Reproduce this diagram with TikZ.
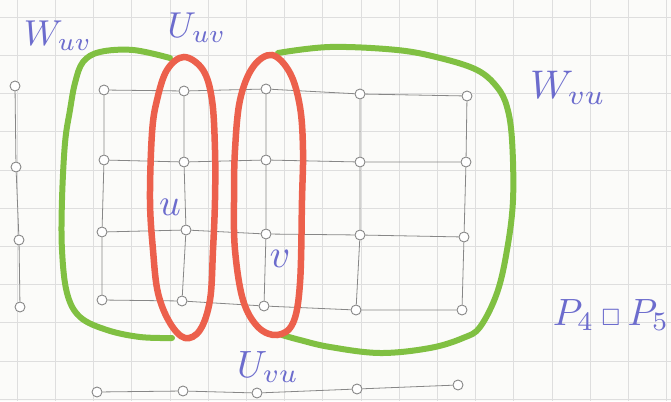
\documentclass[tikz,border=0pt]{standalone}
\usepackage{amssymb}
\definecolor{paper}{RGB}{251,251,249}
\definecolor{gridc}{RGB}{222,222,222}
\definecolor{vgray}{RGB}{135,135,135}
\definecolor{leaf}{RGB}{128,192,66}
\definecolor{redo}{RGB}{236,96,76}
\definecolor{ink}{RGB}{108,108,205}
\begin{document}
\begin{tikzpicture}[x=1pt,y=-1pt,
  vtx/.style={circle, draw=vgray, fill=white, line width=0.9pt, minimum size=10pt, inner sep=0pt},
  edg/.style={draw=vgray, line width=0.8pt},
  greenline/.style={draw=leaf, line width=6pt, line cap=round},
  redline/.style={draw=redo, line width=6.5pt},
  lab/.style={text=ink, inner sep=0pt}]
\useasboundingbox (0,0) rectangle (671,401);
\fill[paper] (0,0) rectangle (671,401);
% graph paper
\foreach \k in {0,...,17} {\draw[gridc, line width=0.6pt] (17+38.2*\k,0) -- (17+38.2*\k,401);}
\foreach \k in {0,...,10} {\draw[gridc, line width=0.6pt] (0,17+38.2*\k) -- (671,17+38.2*\k);}
% grid graph vertices
\node[vtx] (a11) at (104,90) {};
\node[vtx] (a12) at (184,91) {};
\node[vtx] (a13) at (266,89) {};
\node[vtx] (a14) at (360,94) {};
\node[vtx] (a15) at (467,96) {};
\node[vtx] (a21) at (104,160) {};
\node[vtx] (a22) at (184,162) {};
\node[vtx] (a23) at (266,160) {};
\node[vtx] (a24) at (360,162) {};
\node[vtx] (a25) at (466,162) {};
\node[vtx] (a31) at (102,232) {};
\node[vtx] (a32) at (186,230) {};
\node[vtx] (a33) at (266,234) {};
\node[vtx] (a34) at (360,235) {};
\node[vtx] (a35) at (464,237) {};
\node[vtx] (a41) at (102,300) {};
\node[vtx] (a42) at (182,301) {};
\node[vtx] (a43) at (264,306) {};
\node[vtx] (a44) at (356,310) {};
\node[vtx] (a45) at (462,310) {};
% P4
\node[vtx] (p1) at (15,86) {};
\node[vtx] (p2) at (16,167) {};
\node[vtx] (p3) at (19,240) {};
\node[vtx] (p4) at (20,307) {};
% P5
\node[vtx] (q1) at (97,392) {};
\node[vtx] (q2) at (183,391) {};
\node[vtx] (q3) at (257,393) {};
\node[vtx] (q4) at (357,389) {};
\node[vtx] (q5) at (458,385) {};
% edges
\foreach \r in {1,...,4} {
  \draw[edg] (a\r1) -- (a\r2) -- (a\r3) -- (a\r4) -- (a\r5);
}
\foreach \c in {1,...,5} {
  \draw[edg] (a1\c) -- (a2\c) -- (a3\c) -- (a4\c);
}
\draw[edg] (p1) -- (p2) -- (p3) -- (p4);
\draw[edg] (q1) -- (q2) -- (q3) -- (q4) -- (q5);
% green curves
\draw[greenline] plot[smooth, tension=0.6] coordinates {(170,58) (133,50) (100,52) (83,62) (75,83) (70,110) (65,143) (62,200) (62,250) (67,293) (80,317) (107,330) (140,337) (172,338)};
\draw[greenline] plot[smooth, tension=0.6] coordinates {(278,53) (330,47) (397,50) (440,58) (477,70) (497,87) (507,107) (512,140) (513,200) (507,250) (497,293) (480,327) (463,338) (430,348) (380,353) (330,347) (300,340) (282,335)};
% red ovals
\draw[redline] plot[smooth cycle, tension=0.6] coordinates {(184,57) (203,70) (212,100) (215,150) (215,200) (213,250) (210,300) (200,330) (185,338) (170,323) (158,293) (153,250) (150,200) (152,133) (157,100) (167,70)};
\draw[redline] plot[smooth cycle, tension=0.6] coordinates {(272,55) (290,73) (300,107) (303,150) (302,200) (300,283) (293,323) (277,335) (258,327) (243,300) (235,250) (234,200) (235,150) (240,100) (253,67)};
% labels
\node[lab, scale=3.6] (lWuv) at (58,36) {$W_{uv}$};
\node[lab, scale=3.6] (lUuv) at (197,28) {$U_{uv}$};
\node[lab, scale=4.0] (lWvu) at (568,88) {$W_{vu}$};
\node[lab, scale=3.8] (lu) at (170,207) {$u$};
\node[lab, scale=4] (lv) at (280,259) {$v$};
\node[lab, scale=3.8] (lUvu) at (268,367) {$U_{vu}$};
\node[lab, scale=3.8] (lP) at (611,315) {$P_4\,{\scriptscriptstyle\square}\,P_5$};
\end{tikzpicture}
\end{document}
